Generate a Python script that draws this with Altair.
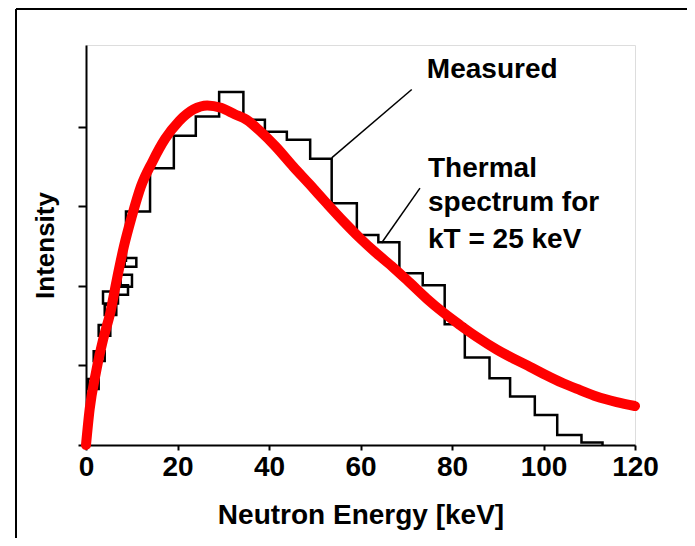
import altair as alt
import pandas as pd

FONT = "Liberation Sans, Arial, sans-serif"

# Measured histogram (coarse bins): left edges and heights
hist_x = [8.74, 8.74, 14.0, 19.2, 24.0, 29.1, 34.4, 39.1, 43.9, 49.0, 53.7, 59.2, 63.9,
          68.5, 73.6, 78.4, 82.8, 88.2, 92.7, 98.1, 103.0, 108.3, 112.9]
hist_y = [2.30, 2.935, 3.48, 3.89, 4.13, 4.44, 4.09, 3.94, 3.84, 3.60, 3.04, 2.64, 2.55,
          2.16, 2.01, 1.52, 1.10, 0.84, 0.61, 0.377, 0.126, 0.03, 0.0]

# Measured low-energy small bins (boxes)
box_x1 = [0.44, 1.68, 2.77, 4.09, 3.72, 6.84, 7.58, 8.46]
box_x2 = [2.77, 4.09, 5.31, 6.62, 7.00, 9.18, 10.05, 11.0]
box_y1 = [0.705, 1.057, 1.375, 1.635, 1.78, 1.89, 1.99, 2.24]
box_y2 = [0.83, 1.18, 1.51, 1.76, 1.93, 2.01, 2.14, 2.35]

# Thermal spectrum (kT = 25 keV)
th_x = [0, 0.8, 2.2, 3.8, 5.3, 6.7, 8.3, 10.0, 12.0, 14.5, 17.3, 20.3, 23.5, 26.5, 29.5,
        32.5, 35.1, 38.0, 41.5, 45.3, 49.0, 52.6, 56.3, 59.9, 63.5, 67.2, 70.8, 74.5,
        78.0, 81.7, 85.4, 89.8, 93.5, 97.0, 100.5, 104.3, 108.0, 111.6, 116.0, 120.0]
th_y = [0, 0.45, 0.92, 1.34, 1.66, 2.07, 2.50, 2.87, 3.25, 3.56, 3.85, 4.07, 4.22, 4.27, 4.24,
        4.16, 4.09, 3.95, 3.75, 3.50, 3.27, 3.04, 2.81, 2.60, 2.41, 2.23, 2.04, 1.84,
        1.67, 1.51, 1.36, 1.20, 1.085, 0.985, 0.88, 0.776, 0.69, 0.61, 0.54, 0.49]

# Annotations
ann_text = ["Measured", "Thermal", "spectrum for", "kT = 25 keV"]
ann_x = [74.5, 74.75, 74.75, 74.75]
ann_y = [4.62, 3.37, 2.94, 2.48]

lead_x1 = [71.2, 73.0]
lead_y1 = [4.47, 3.23]
lead_x2 = [53.7, 64.6]
lead_y2 = [3.61, 2.54]

x_ticks = [0, 20, 40, 60, 80, 100, 120]
y_ticks = [0, 1, 2, 3, 4]

xs = alt.Scale(domain=[0, 120], nice=False, zero=False)
ys = alt.Scale(domain=[0, 5.03], nice=False)

xax = alt.Axis(values=x_ticks, title="Neutron Energy [keV]", grid=False, tickSize=5,
               tickWidth=2, tickColor="black", domainColor="black", domainWidth=2,
               labelFlush=False, labelOverlap=False,
               labelFont=FONT, labelFontSize=28, labelFontWeight="bold", labelColor="black",
               labelPadding=3, titleFont=FONT, titleFontSize=28, titleFontWeight="bold",
               titleColor="black", titlePadding=20)
yax = alt.Axis(values=y_ticks, title="Intensity", grid=False, labels=False, tickSize=8,
               tickWidth=2, tickColor="black", domainColor="black", domainWidth=2,
               titleFont=FONT, titleFontSize=26, titleFontWeight="bold", titleColor="black",
               titlePadding=19)

hist_df = pd.DataFrame({"x": hist_x, "y": hist_y})
box_df = pd.DataFrame({"x1": box_x1, "x2": box_x2, "y1": box_y1, "y2": box_y2})
th_df = pd.DataFrame({"x": th_x, "y": th_y})
ann_df = pd.DataFrame({"x": ann_x, "y": ann_y, "t": ann_text})
lead_df = pd.DataFrame({"x1": lead_x1, "y1": lead_y1, "x2": lead_x2, "y2": lead_y2})

boxes = alt.Chart(box_df).mark_rect(filled=False, stroke="black", strokeWidth=2.5).encode(
    x=alt.X("x1:Q", scale=xs, axis=xax), x2="x2:Q",
    y=alt.Y("y1:Q", scale=ys, axis=yax), y2="y2:Q")

hist = alt.Chart(hist_df).mark_line(interpolate="step-after", color="black",
                                    strokeWidth=2.5).encode(
    x=alt.X("x:Q", scale=xs), y=alt.Y("y:Q", scale=ys))

leads = alt.Chart(lead_df).mark_rule(color="black", strokeWidth=1.5).encode(
    x=alt.X("x1:Q", scale=xs), y=alt.Y("y1:Q", scale=ys), x2="x2:Q", y2="y2:Q")

thermal = alt.Chart(th_df).mark_line(color="#ff0000", strokeWidth=10, interpolate="monotone",
                                     strokeCap="round", strokeJoin="round").encode(
    x=alt.X("x:Q", scale=xs), y=alt.Y("y:Q", scale=ys))

texts = alt.Chart(ann_df).mark_text(align="left", baseline="alphabetic", font=FONT,
                                    fontSize=28, fontWeight="bold", color="black").encode(
    x=alt.X("x:Q", scale=xs), y=alt.Y("y:Q", scale=ys), text="t:N")

one = alt.Data(values=[{}])
frame_left = alt.Chart(one).mark_rule(color="black", strokeWidth=2).encode(
    x=alt.value(-70), y=alt.value(-36), y2=alt.value(520))
frame_top = alt.Chart(one).mark_rule(color="black", strokeWidth=2).encode(
    x=alt.value(-70), x2=alt.value(640), y=alt.value(-36))

chart = alt.layer(boxes, hist, leads, thermal, texts, frame_left, frame_top).properties(
    width=549, height=400,
    padding={"left": 78, "top": 37, "right": 52, "bottom": 93},
    autosize=alt.AutoSizeParams(type="none"),
).configure_view(stroke="black", strokeWidth=2).configure(background="white")

chart.save("out.html", embed_options={"renderer": "svg", "actions": False})
